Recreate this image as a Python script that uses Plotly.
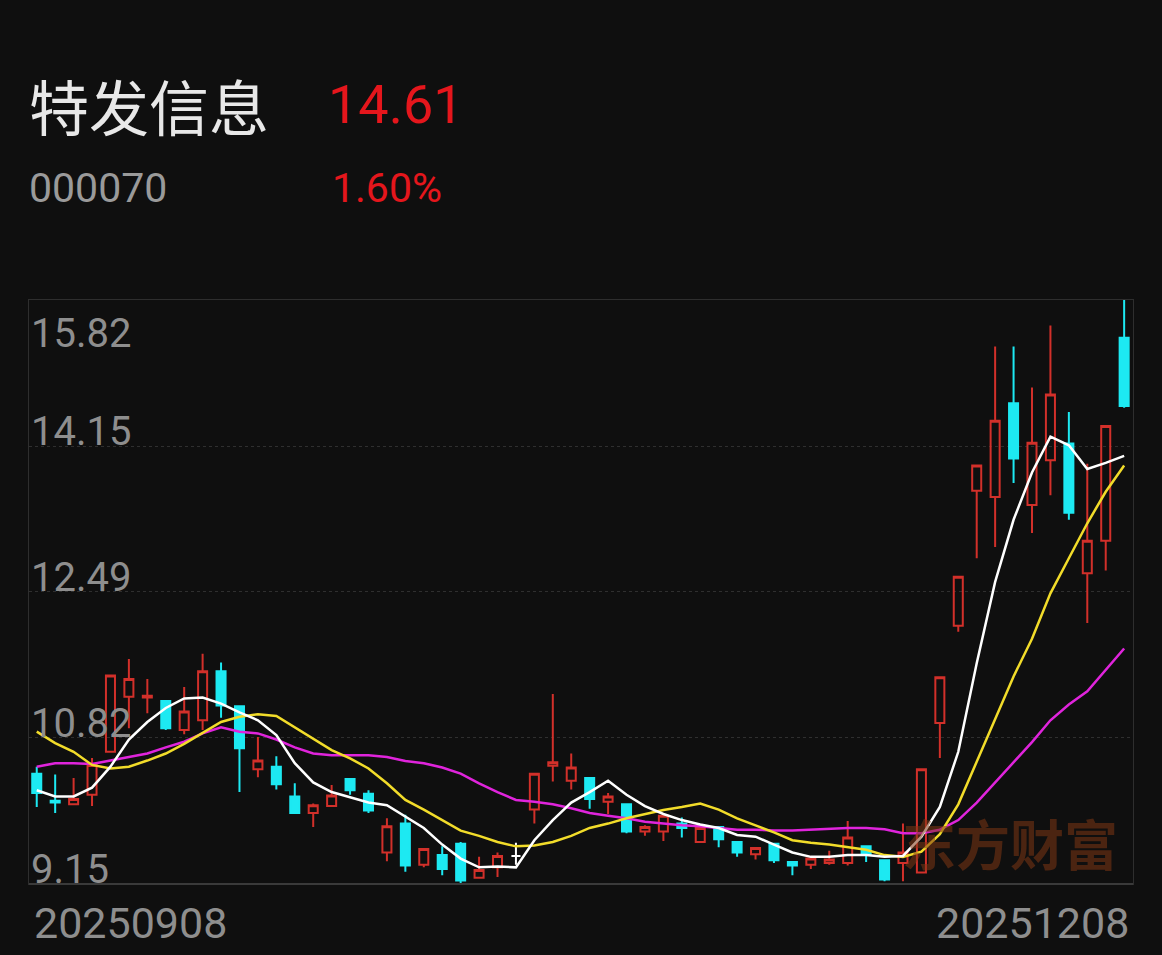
import plotly.graph_objects as go
import pandas as pd

# ---- data ----
_days = pd.bdate_range("2025-09-08", "2025-12-08")
dates = [d.strftime("%Y%m%d") for d in _days
         if not (pd.Timestamp("2025-10-01") <= d <= pd.Timestamp("2025-10-08"))]

open_ = [10.41, 10.10, 10.06, 10.17, 10.66, 11.29, 11.28, 11.24, 10.91, 11.02,
         11.58, 11.18, 10.46, 10.49, 10.15, 9.96, 10.04, 10.35, 10.18, 9.51,
         9.84, 9.37, 9.48, 9.61, 9.22, 9.34, 9.47, 10.00, 10.50, 10.33,
         10.36, 10.09, 10.06, 9.75, 9.75, 9.84, 9.63, 9.80, 9.63, 9.49,
         9.61, 9.40, 9.37, 9.39, 9.39, 9.58, 9.42, 9.39, 9.28, 10.99,
         12.10, 13.64, 13.57, 14.64, 13.48, 13.99, 14.18, 12.70, 13.07, 15.39]
high = [10.49, 10.40, 10.36, 10.59, 11.54, 11.72, 11.49, 11.25, 11.40, 11.78,
        11.68, 11.19, 10.83, 10.61, 10.30, 10.07, 10.28, 10.35, 10.22, 9.90,
        9.94, 9.55, 9.58, 9.63, 9.46, 9.51, 9.62, 10.42, 11.32, 10.64,
        10.36, 10.19, 10.06, 9.82, 9.94, 9.91, 9.79, 9.81, 9.63, 9.57,
        9.62, 9.40, 9.45, 9.53, 9.87, 9.59, 9.43, 9.84, 10.46, 11.51,
        12.66, 13.93, 15.29, 15.29, 14.82, 15.53, 14.54, 13.95, 14.39, 15.82]
low = [10.03, 9.96, 10.06, 10.04, 10.65, 10.93, 11.10, 10.91, 10.86, 10.91,
       11.05, 10.20, 10.37, 10.23, 9.95, 9.80, 10.03, 10.17, 9.96, 9.41,
       9.29, 9.34, 9.25, 9.15, 9.21, 9.23, 9.37, 9.84, 10.32, 10.23,
       10.01, 9.95, 9.73, 9.70, 9.64, 9.68, 9.63, 9.57, 9.46, 9.43,
       9.39, 9.25, 9.32, 9.37, 9.36, 9.40, 9.18, 9.18, 9.28, 10.59,
       12.03, 12.87, 13.00, 13.73, 13.16, 13.59, 13.31, 12.13, 12.73, 14.59]
close = [10.19, 10.08, 10.12, 10.51, 11.53, 11.49, 11.30, 10.93, 11.12, 11.58,
         11.19, 10.70, 10.56, 10.29, 9.96, 10.05, 10.16, 10.22, 9.99, 9.81,
         9.36, 9.55, 9.32, 9.19, 9.31, 9.47, 9.47, 10.41, 10.54, 10.48,
         10.12, 10.15, 9.75, 9.80, 9.93, 9.79, 9.79, 9.66, 9.51, 9.56,
         9.42, 9.36, 9.44, 9.43, 9.68, 9.48, 9.20, 9.51, 10.46, 11.51,
         12.66, 13.93, 14.44, 14.01, 14.19, 14.74, 13.39, 13.07, 14.38, 14.61]

ma5 = [10.22, 10.15, 10.15, 10.25, 10.49, 10.80, 11.00, 11.16, 11.27, 11.28,
       11.21, 11.11, 11.02, 10.85, 10.53, 10.31, 10.20, 10.14, 10.08, 10.05,
       9.92, 9.79, 9.60, 9.44, 9.34, 9.35, 9.34, 9.65, 9.88, 10.08,
       10.20, 10.33, 10.17, 10.04, 9.95, 9.88, 9.83, 9.79, 9.71, 9.69,
       9.60, 9.51, 9.46, 9.46, 9.48, 9.48, 9.46, 9.47, 9.69, 10.03,
       10.66, 11.67, 12.60, 13.31, 13.85, 14.26, 14.16, 13.89, 13.96, 14.04]
ma10 = [10.89, 10.76, 10.66, 10.51, 10.47, 10.49, 10.56, 10.64, 10.75, 10.88,
        11.00, 11.06, 11.09, 11.07, 10.94, 10.80, 10.68, 10.585, 10.47, 10.30,
        10.11, 10.00, 9.88, 9.76, 9.70, 9.63, 9.58, 9.59, 9.63, 9.70,
        9.79, 9.84, 9.90, 9.95, 9.995, 10.03, 10.07, 10.00, 9.90, 9.82,
        9.74, 9.65, 9.62, 9.60, 9.57, 9.54, 9.48, 9.46, 9.52, 9.72,
        10.06, 10.55, 11.05, 11.52, 11.95, 12.47, 12.87, 13.27, 13.63, 13.93]
ma20 = [10.49, 10.53, 10.53, 10.52, 10.56, 10.60, 10.64, 10.71, 10.775, 10.87,
        10.94, 10.89, 10.87, 10.80, 10.71, 10.64, 10.62, 10.62, 10.62, 10.60,
        10.555, 10.53, 10.48, 10.41, 10.30, 10.20, 10.11, 10.09, 10.06, 10.015,
        9.96, 9.93, 9.90, 9.86, 9.84, 9.82, 9.81, 9.79, 9.77, 9.77,
        9.76, 9.76, 9.77, 9.775, 9.79, 9.79, 9.775, 9.73, 9.73, 9.77,
        9.88, 10.08, 10.31, 10.55, 10.77, 11.02, 11.20, 11.35, 11.60, 11.84]

y_ticks = [9.15, 10.82, 12.49, 14.15, 15.82]
stock_name = "特发信息"
stock_code = "000070"
last_price = "14.61"
change_pct = "1.60%"
watermark = "东方财富"

# ---- styling ----
BG = "#0f0f0f"
RED = "#d2302a"
CYAN = "#1de9f2"
GRAY = "#8e8e8e"

n = len(dates)
is_doji = [open_[i] == close[i] for i in range(n)]


def mask(vals, keep):
    return [v if k else None for v, k in zip(vals, keep)]


normal = [not d for d in is_doji]

fig = go.Figure()
fig.add_trace(go.Candlestick(
    x=dates, open=mask(open_, normal), high=mask(high, normal),
    low=mask(low, normal), close=mask(close, normal),
    increasing=dict(line=dict(color=RED, width=2), fillcolor="rgba(0,0,0,0)"),
    decreasing=dict(line=dict(color=CYAN, width=2), fillcolor=CYAN),
    whiskerwidth=0, hoverinfo="skip", showlegend=False,
))
fig.add_trace(go.Candlestick(
    x=dates, open=mask(open_, is_doji), high=mask(high, is_doji),
    low=mask(low, is_doji), close=mask(close, is_doji),
    increasing=dict(line=dict(color="#ffffff", width=2), fillcolor="#ffffff"),
    decreasing=dict(line=dict(color="#ffffff", width=2), fillcolor="#ffffff"),
    whiskerwidth=0, hoverinfo="skip", showlegend=False,
))
for vals, col in [(ma20, "#e024dc"), (ma10, "#f2dc2a"), (ma5, "#ffffff")]:
    fig.add_trace(go.Scatter(x=dates, y=vals, mode="lines",
                             line=dict(color=col, width=2.5),
                             hoverinfo="skip", showlegend=False))

annotations = []
for v in y_ticks:
    top = v == y_ticks[-1]
    annotations.append(dict(
        x=0, xref="paper", y=v, yref="y", text=f"{v:.2f}", showarrow=False,
        xanchor="left", yanchor="top" if top else "bottom",
        xshift=0, yshift=-8 if top else -11,
        font=dict(family="Roboto", size=40, color=GRAY)))
annotations += [
    dict(x=0, xref="paper", y=-0.02, yref="paper", text=dates[0], showarrow=False,
         xanchor="left", yanchor="top", xshift=3,
         font=dict(family="Roboto", size=43, color=GRAY)),
    dict(x=1, xref="paper", y=-0.02, yref="paper", text=dates[-1], showarrow=False,
         xanchor="right", yanchor="top", xshift=-2,
         font=dict(family="Roboto", size=43, color=GRAY)),
]

# header and watermark placed in paper coordinates of the page
W, H = 1162, 955
L, R, T, B = 29, 29, 300, 71
pw, ph = W - L - R, H - T - B


def px(xp, yp):
    return (xp - L) / pw, 1 - (yp - T) / ph


for txt, xp, yp, size, col, fam in [
    (stock_name, 27, 104, 60, "#e8e8e8", "Noto Sans CJK SC"),
    (last_price, 326, 104, 54, "#e5161c", "Roboto"),
    (stock_code, 27, 188, 41, "#9a9a9a", "Roboto"),
    (change_pct, 330, 188, 41, "#e5161c", "Roboto"),
]:
    xx, yy = px(xp, yp)
    annotations.append(dict(x=xx, y=yy, xref="paper", yref="paper", text=txt,
                            showarrow=False, xanchor="left", yanchor="middle",
                            font=dict(family=fam, size=size, color=col)))

wx, wy = px(1010, 842)
annotations.append(dict(x=wx, y=wy, xref="paper", yref="paper",
                        text=f"<b>{watermark}</b>", showarrow=False,
                        xanchor="center", yanchor="middle",
                        font=dict(family="Noto Sans CJK SC", size=54,
                                  color="rgba(125,55,20,0.55)")))

fig.update_layout(
    width=W, height=H, margin=dict(l=L, r=R, t=T, b=B),
    paper_bgcolor=BG, plot_bgcolor=BG,
    xaxis=dict(type="category", range=[-0.42, n - 1 + 0.48],
               showgrid=False, showticklabels=False, ticks="",
               rangeslider=dict(visible=False), zeroline=False,
               showline=True, mirror=True, linecolor="#2e2e2e", linewidth=1),
    yaxis=dict(range=[y_ticks[0], y_ticks[-1]], tickvals=y_ticks,
               showticklabels=False, ticks="", zeroline=False,
               showgrid=True, gridcolor="#2f2f2f", griddash="dot", gridwidth=1,
               showline=True, mirror=True, linecolor="#2e2e2e", linewidth=1),
    annotations=annotations,
    hovermode=False,
)
fig.add_shape(type="line", xref="paper", yref="paper", x0=0, x1=1, y0=0, y1=0,
              line=dict(color="#3a3a3a", width=2))

fig.write_html("out.html", config={"displayModeBar": False},
               post_script="document.body.style.margin='0';document.body.style.overflow='hidden';")
